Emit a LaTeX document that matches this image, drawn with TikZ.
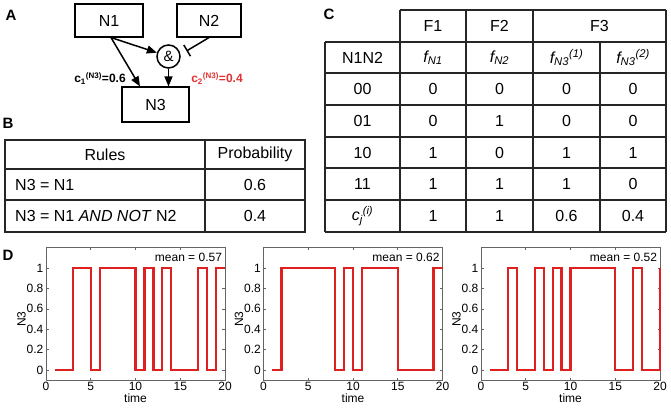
\documentclass[tikz,border=0pt]{standalone}
\usepackage{fontspec}
\setmainfont{Liberation Sans}
\usetikzlibrary{arrows.meta}
\definecolor{myred}{RGB}{222,32,32}
\definecolor{axgray}{RGB}{100,100,100}
\definecolor{lblred}{RGB}{225,50,50}
\tikzset{
  big/.style={font=\fontsize{16}{19}\selectfont},
  panel/.style={font=\fontsize{15}{17}\selectfont\bfseries},
  nodebox/.style={draw, line width=1.1pt, big, inner sep=0pt},
  arr/.style={line width=1.5pt, -{Triangle[length=10pt,width=8pt]}},
  inh/.style={line width=1.5pt, -{Bar[width=13pt,line width=1.5pt]}},
  grid/.style={line width=1.2pt, black!85},
  cell/.style={big, inner sep=0pt},
  tick/.style={font=\fontsize{12}{14}\selectfont, inner sep=1.5pt},
  sig/.style={myred, line width=2.2pt, line join=miter},
}
\newcommand\plotpanel[4]{%
\begin{scope}[shift={(#2,370)}, x=8.95pt, y=102pt]
  \draw[axgray, line width=0.6pt] (0,-0.1) rectangle (20,1.2);
  \foreach \t in {0,5,10,15,20} {
    \draw[axgray, line width=0.6pt] (\t,-0.1) -- ++(0,0.025);
    \draw[axgray, line width=0.6pt] (\t,1.2) -- ++(0,-0.025);
    \node[tick, anchor=north] (#1x\t) at (\t,-0.1) {\t};
  }
  \foreach \v/\l in {0/0,0.2/0.2,0.4/0.4,0.6/0.6,0.8/0.8,1/1} {
    \draw[axgray, line width=0.6pt] (0,\v) -- ++(0.28,0);
    \draw[axgray, line width=0.6pt] (20,\v) -- ++(-0.28,0);
    \node[tick, anchor=east] (#1y\l) at (-0.1,\v) {\l};
  }
  \node[tick, rotate=90] (#1yl) at (-2.75,0.5) {N3};
  \node[tick] (#1xl) at (10,-0.28) {time};
  \node[tick, anchor=east] (#1mean) at (19.85,1.108) {mean = #3};
  \draw[sig] plot[const plot] coordinates {#4};
\end{scope}}
\begin{document}
\begin{tikzpicture}[x=1pt,y=-1pt]
\useasboundingbox (0,0) rectangle (671,407);
% ---------- Panel A
\node[panel] (lA) at (11,15) {A};
\node[nodebox, minimum width=68pt, minimum height=33pt] (n1) at (109,20.5) {N1};
\node[nodebox, minimum width=64pt, minimum height=33pt] (n2) at (209,20.5) {N2};
\node[nodebox, minimum width=67pt, minimum height=35pt] (n3) at (155.5,104.5) {N3};
\node[draw, circle, line width=1.5pt, minimum size=23pt, inner sep=0pt,
      font=\fontsize{15}{17}\selectfont] (and) at (168.5,56.5) {\&};
\coordinate (inhend) at (186.5,51);
\draw[arr] ([xshift=2pt]n1.south) -- ([xshift=-15.5pt]n3.north);
\draw[arr] ([xshift=2pt]n1.south) -- (and);
\draw[arr] (and) -- (and |- n3.north);
\draw[inh] (n2.south) -- (inhend);
\node[font=\fontsize{12}{14}\selectfont\bfseries, inner sep=0pt] (c1) at (100,78.5)
  {c\textsubscript{1}\textsuperscript{(N3)}=0.6};
\node[font=\fontsize{12}{14}\selectfont\bfseries, text=lblred, inner sep=0pt] (c2) at (217,78.5)
  {c\textsubscript{2}\textsuperscript{(N3)}=0.4};
% ---------- Panel B
\node[panel] (lB) at (8,123) {B};
\draw[grid] (5,140) rectangle (305,232);
\draw[grid] (5,169) -- (305,169);
\draw[grid] (5,200) -- (305,200);
\draw[grid] (205,140) -- (205,232);
\node[cell] (bh1) at (105,154.5) {Rules};
\node[cell] (bh2) at (255,154.5) {Probability};
\node[cell, anchor=west] (br1) at (15,184.5) {N3 = N1};
\node[cell] (bp1) at (255,184.5) {0.6};
\node[cell, anchor=west] (br2) at (15,216) {N3 = N1 \textit{AND NOT} N2};
\node[cell] (bp2) at (255,216) {0.4};
% ---------- Panel C
\node[panel] (lC) at (329,14) {C};
\draw[grid] (400,10) -- (666,10);
\foreach \yy in {42,73,105,137,168,200,232} { \draw[grid] (325,\yy) -- (666,\yy); }
\draw[grid] (325,42) -- (325,232);
\foreach \xx in {400,466,533,666} { \draw[grid] (\xx,10) -- (\xx,232); }
\draw[grid] (600,42) -- (600,232);
\node[cell] (cF1) at (433,26) {F1};
\node[cell] (cF2) at (499.5,26) {F2};
\node[cell] (cF3) at (599.5,26) {F3};
\node[cell] (cH0) at (362.5,57.5) {N1N2};
\node[cell] (cH1) at (433,57.5) {\itshape f\textsubscript{N1}};
\node[cell] (cH2) at (499.5,57.5) {\itshape f\textsubscript{N2}};
\node[cell] (cH3) at (566.5,57.5) {\itshape f\textsubscript{N3}\textsuperscript{(1)}};
\node[cell] (cH4) at (633,57.5) {\itshape f\textsubscript{N3}\textsuperscript{(2)}};
\foreach \r/\yy/\a/\b/\c/\d/\e in {1/89/00/0/0/0/0, 2/121/01/0/1/0/0, 3/152.5/10/1/0/1/1, 4/184/11/1/1/1/0} {
  \node[cell] (c\r a) at (362.5,\yy) {\a};
  \node[cell] (c\r b) at (433,\yy) {\b};
  \node[cell] (c\r c) at (499.5,\yy) {\c};
  \node[cell] (c\r d) at (566.5,\yy) {\d};
  \node[cell] (c\r e) at (633,\yy) {\e};
}
\node[cell] (c5a) at (362.5,216) {\itshape c\textsubscript{j}\textsuperscript{(i)}};
\node[cell] (c5b) at (433,216) {1};
\node[cell] (c5c) at (499.5,216) {1};
\node[cell] (c5d) at (566.5,216) {0.6};
\node[cell] (c5e) at (633,216) {0.4};
% ---------- Panel D
\node[panel] (lD) at (8,255) {D};
\plotpanel{pa}{46}{0.57}{(1,0) (3,1) (5,0) (6,1) (10,0) (11,1) (12,0) (13,1) (14,0) (17,1) (18,0) (19,1) (20,1)}
\plotpanel{pb}{263.5}{0.62}{(1,0) (2,1) (8,0) (9,1) (10,0) (11,1) (15,0) (19,1) (20,1)}
\plotpanel{pc}{481}{0.52}{(1,0) (3,1) (4,0) (6,1) (7,0) (8,1) (9,0) (10,1) (15,0) (17,1) (18,0) (20,1)}
\end{tikzpicture}
\end{document}
